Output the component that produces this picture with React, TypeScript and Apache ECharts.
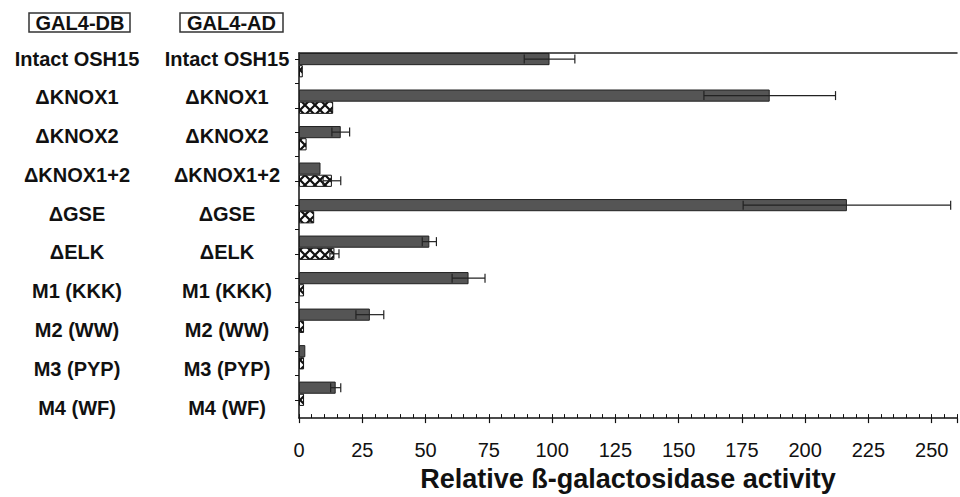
import React, { useEffect, useRef } from 'react';
import * as echarts from 'echarts';

const constructs = ['Intact OSH15', 'ΔKNOX1', 'ΔKNOX2', 'ΔKNOX1+2', 'ΔGSE', 'ΔELK', 'M1 (KKK)', 'M2 (WW)', 'M3 (PYP)', 'M4 (WF)'];
const dbValues = [99, 186, 16.5, 8.5, 216.5, 51.5, 67, 28, 2.5, 14.5];
const dbErrors = [10, 26, 3.5, 0, 41, 2.8, 6.5, 5.5, 0, 2];
const adValues = [1.5, 13.5, 3, 13, 6, 14, 2, 2, 2, 2];
const adErrors = [0, 0, 0, 3.5, 0, 1.8, 0, 0, 0, 0];
const xTickLabels = [0, 25, 50, 75, 100, 125, 150, 175, 200, 225, 250];
const headers = ['GAL4-DB', 'GAL4-AD'];
const axisTitle = 'Relative ß-galactosidase activity';

const FONT = "'Liberation Sans', Arial, Helvetica, sans-serif";

export default function App() {
  const ref = useRef<HTMLDivElement>(null);
  useEffect(() => {
    document.body.style.margin = '0';
    if (!ref.current) return;
    const chart = echarts.init(ref.current, null, { renderer: 'svg' });

    const c = document.createElement('canvas');
    c.width = 10;
    c.height = 10;
    const ctx = c.getContext('2d')!;
    ctx.fillStyle = '#fff';
    ctx.fillRect(0, 0, 10, 10);
    ctx.strokeStyle = '#111';
    ctx.lineWidth = 2.2;
    ctx.beginPath();
    ctx.moveTo(0, 0);
    ctx.lineTo(10, 10);
    ctx.moveTo(10, 0);
    ctx.lineTo(0, 10);
    ctx.stroke();

    const slots = Array.from({ length: constructs.length * 3 }, (_, i) => String(i));
    const dbData = slots.map((_, i) => (i % 3 === 0 ? dbValues[i / 3] : null));
    const adData = slots.map((_, i) => (i % 3 === 1 ? adValues[(i - 1) / 3] : null));
    const errData: number[][] = [];
    constructs.forEach((_, j) => {
      if (dbErrors[j] > 0) errData.push([dbValues[j] - dbErrors[j], dbValues[j] + dbErrors[j], 3 * j]);
      if (adErrors[j] > 0) errData.push([adValues[j] - adErrors[j], adValues[j] + adErrors[j], 3 * j + 1]);
    });

    const labelStyle = { fontSize: 20, fontWeight: 'bold' as const, color: '#111', fontFamily: FONT, align: 'center' as const };
    const labelGrid = { left: 299, right: -4, top: 39.3, bottom: 70.1 };

    chart.setOption({
      animation: false,
      grid: [
        { left: 299, right: -4, top: 53, bottom: 65 },
        labelGrid,
        labelGrid,
      ],
      xAxis: [
        {
          gridIndex: 0, type: 'value', min: 0, max: 260, interval: 25, position: 'bottom',
          axisLine: { show: true, onZero: false, lineStyle: { color: '#111', width: 1.5 } },
          axisTick: { show: true, inside: false, length: 5, lineStyle: { color: '#111', width: 1.2 } },
          axisLabel: {
            fontSize: 20, color: '#111', fontFamily: FONT, margin: 22,
            formatter: (v: number) => (xTickLabels.includes(v) ? String(v) : ''),
          },
          splitLine: { show: false },
          name: axisTitle, nameLocation: 'middle', nameGap: 43,
          nameTextStyle: { fontSize: 27, fontWeight: 'bold', color: '#111', fontFamily: FONT },
        },
        {
          gridIndex: 0, type: 'value', min: 0, max: 260, interval: 5, position: 'bottom',
          axisLine: { show: false, onZero: false },
          axisTick: { show: true, inside: true, length: 4, lineStyle: { color: '#111', width: 1 } },
          axisLabel: { show: false }, splitLine: { show: false },
        },
        {
          gridIndex: 0, type: 'value', min: 0, max: 260, position: 'top',
          axisLine: { show: true, onZero: false, lineStyle: { color: '#222', width: 1.5 } },
          axisTick: { show: false }, axisLabel: { show: false }, splitLine: { show: false },
        },
        { gridIndex: 1, type: 'value', min: 0, max: 1, show: false },
        { gridIndex: 2, type: 'value', min: 0, max: 1, show: false },
      ],
      yAxis: [
        {
          gridIndex: 0, type: 'category', data: slots, inverse: true,
          axisLine: { show: true, onZero: false, lineStyle: { color: '#111', width: 1.5 } },
          axisTick: { show: true, alignWithLabel: true, length: 4, lineStyle: { color: '#111', width: 1 } },
          axisLabel: { show: false }, splitLine: { show: false },
        },
        {
          gridIndex: 1, type: 'category', data: constructs, inverse: true, position: 'left',
          axisLine: { show: false }, axisTick: { show: false },
          axisLabel: { ...labelStyle, margin: 222, interval: 0 },
        },
        {
          gridIndex: 2, type: 'category', data: constructs, inverse: true, position: 'left',
          axisLine: { show: false }, axisTick: { show: false },
          axisLabel: { ...labelStyle, margin: 72, interval: 0 },
        },
      ],
      series: [
        {
          type: 'bar', xAxisIndex: 0, yAxisIndex: 0, data: dbData,
          barGap: '-100%', barCategoryGap: '0%',
          itemStyle: { color: '#555', borderColor: '#222', borderWidth: 1 },
        },
        {
          type: 'bar', xAxisIndex: 0, yAxisIndex: 0, data: adData,
          barGap: '-100%', barCategoryGap: '0%',
          itemStyle: { color: { image: c, repeat: 'repeat' }, borderColor: '#111', borderWidth: 1 },
        },
        {
          type: 'custom', xAxisIndex: 0, yAxisIndex: 0, data: errData,
          encode: { x: [0, 1], y: 2 },
          z: 5,
          renderItem: (_params: any, api: any) => {
            const lo = api.coord([api.value(0), api.value(2)]);
            const hi = api.coord([api.value(1), api.value(2)]);
            const h = 9;
            const st = { stroke: '#222', lineWidth: 1.2 };
            return {
              type: 'group',
              children: [
                { type: 'line', shape: { x1: lo[0], y1: lo[1], x2: hi[0], y2: hi[1] }, style: st },
                { type: 'line', shape: { x1: lo[0], y1: lo[1] - h / 2, x2: lo[0], y2: lo[1] + h / 2 }, style: st },
                { type: 'line', shape: { x1: hi[0], y1: hi[1] - h / 2, x2: hi[0], y2: hi[1] + h / 2 }, style: st },
              ],
            };
          },
        },
      ],
      graphic: [
        { type: 'rect', shape: { x: 29, y: 13, width: 101, height: 19 }, style: { fill: '#fff', stroke: '#333', lineWidth: 1.5 } },
        { type: 'text', x: 80, y: 23, style: { text: headers[0], fontSize: 20, fontWeight: 'bold', fontFamily: FONT, fill: '#111', align: 'center', verticalAlign: 'middle' } },
        { type: 'rect', shape: { x: 180, y: 13, width: 103, height: 19 }, style: { fill: '#fff', stroke: '#333', lineWidth: 1.5 } },
        { type: 'text', x: 231.5, y: 23, style: { text: headers[1], fontSize: 20, fontWeight: 'bold', fontFamily: FONT, fill: '#111', align: 'center', verticalAlign: 'middle' } },
      ],
    });
    return () => chart.dispose();
  }, []);
  return <div ref={ref} style={{ width: 960, height: 497 }} />;
}
